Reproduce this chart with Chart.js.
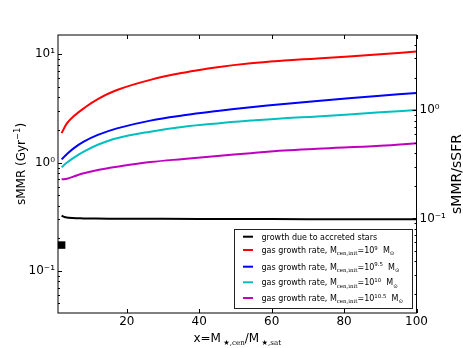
<!DOCTYPE html>
<html>
<head>
<meta charset="utf-8">
<script src="https://cdn.jsdelivr.net/npm/chart.js@4.4.1/dist/chart.umd.min.js"></script>
<style>
  html, body { margin: 0; padding: 0; background: #fff; }
</style>
</head>
<body>
<canvas id="c" width="463" height="348"></canvas>
<script>
// values
const xGas = [2, 3.5, 5.4, 8.1, 12, 17.3, 26.5, 35.7, 45, 54.2, 63.4, 72.6, 90, 100];
const gas9 = [1.87, 2.31, 2.69, 3.17, 3.86, 4.68, 5.80, 6.76, 7.59, 8.26, 8.75, 9.15, 10.0, 10.6];
const gas95 = [1.07, 1.20, 1.36, 1.56, 1.80, 2.07, 2.44, 2.73, 2.99, 3.24, 3.48, 3.70, 4.15, 4.40];
const gas10 = [0.905, 1.0, 1.11, 1.26, 1.46, 1.68, 1.93, 2.14, 2.30, 2.44, 2.57, 2.67, 2.91, 3.06];
const gas105 = [0.70, 0.71, 0.745, 0.796, 0.855, 0.916, 1.01, 1.08, 1.15, 1.22, 1.29, 1.34, 1.43, 1.51];

const xAcc = [2, 3, 5, 8, 15, 30, 50, 70, 100];
const accreted = [0.323, 0.313, 0.307, 0.305, 0.303, 0.302, 0.301, 0.300, 0.299];

const obsX = [2];
const obsY = [0.173];

const xTicks = [20, 40, 60, 80, 100];

const legendRows = [
  { color: "#000000", segs: [{ t: "growth due to accreted stars" }] },
  { color: "#ff0000", segs: [{ t: "gas growth rate, M" }, { t: "cen,init", sub: true, serif: true }, { t: "=10" }, { t: "9", sup: true }, { t: "  M" }, { t: "\u2299", sub: true }] },
  { color: "#0000ff", segs: [{ t: "gas growth rate, M" }, { t: "cen,init", sub: true, serif: true }, { t: "=10" }, { t: "9.5", sup: true }, { t: "  M" }, { t: "\u2299", sub: true }] },
  { color: "#00bfbf", segs: [{ t: "gas growth rate, M" }, { t: "cen,init", sub: true, serif: true }, { t: "=10" }, { t: "10", sup: true }, { t: "  M" }, { t: "\u2299", sub: true }] },
  { color: "#bf00bf", segs: [{ t: "gas growth rate, M" }, { t: "cen,init", sub: true, serif: true }, { t: "=10" }, { t: "10.5", sup: true }, { t: "  M" }, { t: "\u2299", sub: true }] },
];

const SUP = { "-": "\u207b", "0": "\u2070", "1": "\u00b9", "2": "\u00b2" };

function pts(xs, ys) {
  return xs.map((x, i) => ({ x: x, y: ys[i] }));
}

function isMajor(v) {
  const l = Math.log10(v);
  return Math.abs(l - Math.round(l)) < 1e-9;
}

function logTicks(min, max) {
  const out = [];
  for (let d = -3; d <= 2; d++) {
    for (let k = 1; k <= 9; k++) {
      const v = k * Math.pow(10, d);
      if (v >= min && v <= max) out.push({ value: v });
    }
  }
  return out;
}

function powLabel(v) {
  if (!isMajor(v)) return "";
  const e = String(Math.round(Math.log10(v)));
  return "10" + e.split("").map((c) => SUP[c]).join("");
}

// text runs with sub/superscripts, starting at x on baseline y
function segFont(s, size) {
  const sz = s.sub || s.sup ? size * (s.small || 0.68) : size;
  return sz + "px " + (s.serif ? "'DejaVu Serif'" : "'DejaVu Sans'");
}
function richWidth(ctx, segs, size) {
  let w = 0;
  segs.forEach((s) => {
    ctx.font = segFont(s, size);
    w += ctx.measureText(s.t).width;
  });
  return w;
}
function drawRich(ctx, segs, x, y, size) {
  segs.forEach((s) => {
    ctx.font = segFont(s, size);
    let dy = 0;
    if (s.sub) dy = size * 0.28;
    if (s.sup) dy = -size * 0.42;
    ctx.fillText(s.t, x, y + dy);
    x += ctx.measureText(s.t).width;
  });
}

const yLeft = { min: 0.0408, max: 15.07 };
const yRight = { min: 0.01338, max: 4.94 };

const frame = {
  id: "frame",
  afterDatasetsDraw(chart) {
    const { ctx, chartArea: a, scales } = chart;
    ctx.save();

    // legend box, lower right
    const bw = 178, bh = 79;
    const bx = a.right - 4.5 - bw, by = a.bottom - 5 - bh;
    ctx.fillStyle = "#fff";
    ctx.fillRect(bx, by, bw, bh);
    ctx.strokeStyle = "#222";
    ctx.lineWidth = 1;
    ctx.strokeRect(Math.round(bx) + 0.5, Math.round(by) + 0.5, bw, bh);
    const rowY = [7.7, 21, 37.7, 53.3, 69];
    legendRows.forEach((r, i) => {
      const y = by + rowY[i];
      ctx.strokeStyle = r.color;
      ctx.lineWidth = 2;
      ctx.beginPath();
      ctx.moveTo(bx + 9, y);
      ctx.lineTo(bx + 19, y);
      ctx.stroke();
      ctx.fillStyle = "#000";
      ctx.textBaseline = "alphabetic";
      drawRich(ctx, r.segs, bx + 27.5, y + 3, 8);
    });

    // inward ticks
    ctx.strokeStyle = "#000";
    ctx.lineWidth = 1;
    ctx.beginPath();
    xTicks.forEach((v) => {
      const px = Math.round(scales.x.getPixelForValue(v)) + 0.5;
      ctx.moveTo(px, a.bottom);
      ctx.lineTo(px, a.bottom - 4);
      ctx.moveTo(px, a.top);
      ctx.lineTo(px, a.top + 4);
    });
    scales.y.ticks.forEach((t) => {
      const py = Math.round(scales.y.getPixelForValue(t.value)) + 0.5;
      ctx.moveTo(a.left, py);
      ctx.lineTo(a.left + (isMajor(t.value) ? 4 : 2), py);
    });
    scales.y2.ticks.forEach((t) => {
      const py = Math.round(scales.y2.getPixelForValue(t.value)) + 0.5;
      ctx.moveTo(a.right, py);
      ctx.lineTo(a.right - (isMajor(t.value) ? 4 : 2), py);
    });
    ctx.stroke();

    // spines
    ctx.strokeRect(a.left, a.top, a.right - a.left, a.bottom - a.top);

    // axis titles
    ctx.fillStyle = "#000";
    const left = [{ t: "sMMR (Gyr" }, { t: "\u22121", sup: true, small: 0.7 }, { t: ")" }];
    ctx.save();
    ctx.translate(21, 164);
    ctx.rotate(-Math.PI / 2);
    drawRich(ctx, left, -richWidth(ctx, left, 12) / 2, 4.3, 12);
    ctx.restore();

    const right = [{ t: "sMMR/sSFR" }];
    ctx.save();
    ctx.translate(455.5, (a.top + a.bottom) / 2);
    ctx.rotate(-Math.PI / 2);
    drawRich(ctx, right, -richWidth(ctx, right, 14) / 2, 5, 14);
    ctx.restore();

    const bottom = [
      { t: "x=M" }, { t: " \u2605", sub: true, small: 0.6 }, { t: ",cen", sub: true, serif: true, small: 0.6 },
      { t: "/M" }, { t: " \u2605", sub: true, small: 0.6 }, { t: ",sat", sub: true, serif: true, small: 0.6 },
    ];
    const cx = (a.left + a.right) / 2;
    drawRich(ctx, bottom, cx - richWidth(ctx, bottom, 12) / 2, 341.5, 12);

    ctx.restore();
  },
};

Chart.defaults.font.family = "'DejaVu Sans'";
Chart.defaults.color = "#000";

const line = (label, color, data) => ({
  label: label,
  data: data,
  borderColor: color,
  backgroundColor: color,
  borderWidth: 2,
  pointRadius: 0,
  fill: false,
  tension: 0.4,
  yAxisID: "y",
});

new Chart(document.getElementById("c"), {
  type: "line",
  data: {
    datasets: [
      line("growth due to accreted stars", "#000000", pts(xAcc, accreted)),
      line("gas growth rate 9", "#ff0000", pts(xGas, gas9)),
      line("gas growth rate 9.5", "#0000ff", pts(xGas, gas95)),
      line("gas growth rate 10", "#00bfbf", pts(xGas, gas10)),
      line("gas growth rate 10.5", "#bf00bf", pts(xGas, gas105)),
      {
        label: "observed",
        data: pts(obsX, obsY),
        showLine: false,
        pointStyle: "rect",
        pointRadius: 5.3,
        borderWidth: 0,
        backgroundColor: "#000",
        borderColor: "#000",
        clip: false,
        yAxisID: "y",
      },
    ],
  },
  options: {
    responsive: false,
    animation: false,
    devicePixelRatio: 1,
    events: [],
    layout: { padding: { top: 35, left: 0, right: 0, bottom: 0 } },
    plugins: { legend: { display: false }, tooltip: { enabled: false } },
    scales: {
      x: {
        type: "linear",
        min: 1,
        max: 100,
        afterBuildTicks: (s) => { s.ticks = xTicks.map((v) => ({ value: v })); },
        afterFit: (s) => { s.height = 35; },
        grid: { display: false, drawTicks: false },
        border: { display: false },
        ticks: { font: { size: 12 }, padding: 2, autoSkip: false, maxRotation: 0 },
      },
      y: {
        type: "logarithmic",
        position: "left",
        min: yLeft.min,
        max: yLeft.max,
        afterBuildTicks: (s) => { s.ticks = logTicks(yLeft.min, yLeft.max); },
        afterFit: (s) => { s.width = 58; },
        grid: { display: false, drawTicks: false },
        border: { display: false },
        ticks: { font: { size: 12 }, padding: 3, autoSkip: false, callback: (v) => powLabel(v) },
      },
      y2: {
        type: "logarithmic",
        position: "right",
        min: yRight.min,
        max: yRight.max,
        afterBuildTicks: (s) => { s.ticks = logTicks(yRight.min, yRight.max); },
        afterFit: (s) => { s.width = 46.5; },
        grid: { display: false, drawTicks: false },
        border: { display: false },
        ticks: { font: { size: 12 }, padding: 3, autoSkip: false, callback: (v) => powLabel(v) },
      },
    },
  },
  plugins: [frame],
});
</script>
</body>
</html>
